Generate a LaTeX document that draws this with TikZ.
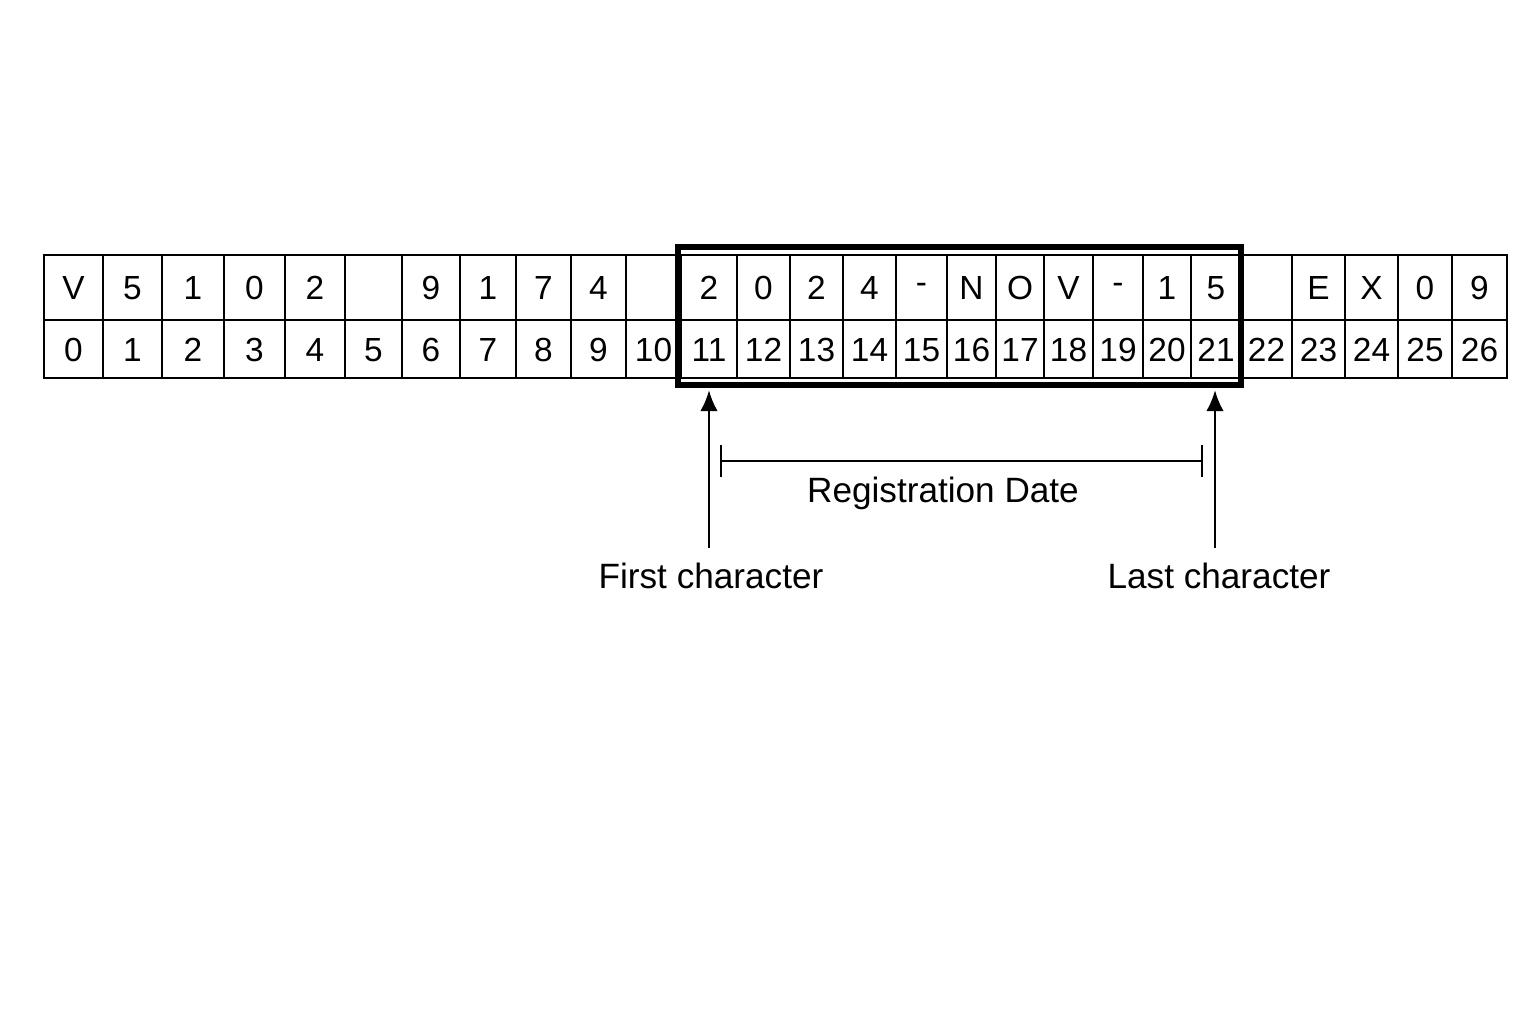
\documentclass[tikz,border=0pt]{standalone}
\usepackage{fontspec}
\setmainfont{Liberation Sans}
\usetikzlibrary{arrows.meta}

\tikzset{
  cell/.style={draw, line width=0.7pt},
  chr/.style={font=\fontsize{9.5}{11}\selectfont, inner sep=0pt},
  lbl/.style={font=\fontsize{10}{12}\selectfont, inner sep=0pt},
  pointer/.style={-{Latex[length=6pt,width=5pt]}, line width=0.8pt},
}

\begin{document}
\begin{tikzpicture}[x=0.01cm, y=-0.01cm]

\useasboundingbox (0,0) rectangle (1536,1024);

% cells: left / right / character / index
\foreach \l/\r/\c/\i in {44/103/V/0, 103/162/5/1, 162/224/1/2, 224/285/0/3,
    285/345/2/4, 345/402//5, 402/460/9/6, 460/516/1/7, 516/571/7/8,
    571/626/4/9, 626/681//10, 681/737/2/11, 737/790/0/12, 790/843/2/13,
    843/896/4/14, 896/947/-/15, 947/996/N/16, 996/1044/O/17, 1044/1093/V/18,
    1093/1143/-/19, 1143/1191/1/20, 1191/1241/5/21, 1241/1292//22,
    1292/1345/E/23, 1345/1398/X/24, 1398/1452/0/25, 1452/1507/9/26}
{
  \draw[cell] (\l,255) rectangle (\r,320);
  \draw[cell] (\l,320) rectangle (\r,378);
  \node[chr] (c\i) at ({(\l+\r)/2},288) {\c};
  \node[chr] (n\i) at ({(\l+\r)/2},350) {\i};
}

% highlighted field
\draw[line width=1.5pt] (678,247) rectangle (1241,385);

\node[lbl] (first) at (711,576) {First character};
\node[lbl] (last) at (1219,576) {Last character};
\node[lbl] (field) at (943,493) {Registration Date};

\coordinate (fTip) at (709,390);
\coordinate (lTip) at (1215,390);
\coordinate (fBase) at (709,548);
\coordinate (lBase) at (1215,548);
\draw[pointer] (fBase) -- (fTip);
\draw[pointer] (lBase) -- (lTip);

% span of the field
\coordinate (sL) at (720,461);
\coordinate (sR) at (1203,461);
\draw[line width=0.7pt, {Bar[width=9pt]}-{Bar[width=9pt]}] (sL) -- (sR);

\end{tikzpicture}
\end{document}
